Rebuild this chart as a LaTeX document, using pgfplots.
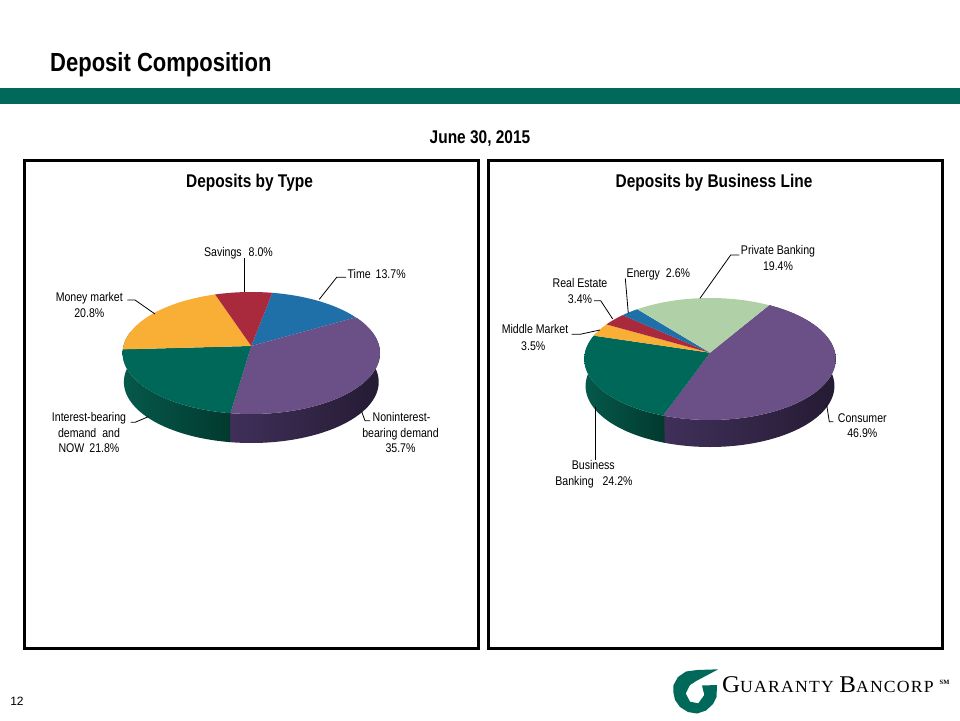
\documentclass[border=0pt]{standalone}
\usepackage{pgfplots}
\pgfplotsset{compat=1.18}
\usepackage{fontspec}
\setmainfont{Liberation Sans}
\newfontfamily\nar[FakeStretch=0.84]{Liberation Sans}
\newfontfamily\ttl[FakeStretch=0.84]{Liberation Sans}
\newfontfamily\logo[LetterSpace=7,FakeStretch=1.04]{Liberation Serif}
\newfontfamily\logosm{Liberation Serif}
\definecolor{gband}{HTML}{00695A}
\definecolor{cpur}{HTML}{6B4F87}
\definecolor{cgrn}{HTML}{006858}
\definecolor{cora}{HTML}{F9AE36}
\definecolor{cred}{HTML}{A92A3C}
\definecolor{cblu}{HTML}{1F6FA8}
\definecolor{clgr}{HTML}{B0D1A8}
\definecolor{spurL}{HTML}{40305A}
\definecolor{spurR}{HTML}{251B33}
\definecolor{sgrnL}{HTML}{05594B}
\definecolor{sgrnR}{HTML}{02392F}
% geometry of a pie: centre, radii, perspective, depth
\newcommand\setpie[6]{\def\cx{#1}\def\cy{#2}\def\rx{#3}\def\ry{#4}\def\cc{#5}\def\dep{#6}%
  \pgfmathsetmacro\sq{sqrt(1-\cc*\cc)}}
\newcommand\rimpt[2]{% angle, scale -> \px,\py
  \pgfmathsetmacro\uu{sin(#1)}\pgfmathsetmacro\vv{cos(#1)}%
  \pgfmathsetmacro\den{1+\cc*\vv}%
  \pgfmathsetmacro\px{\cx+#2*\rx*\uu*\sq/\den}%
  \pgfmathsetmacro\py{\cy-\ry*(\vv+\cc)/\den}}
% top wedge, from cumulative start angle and share in percent
\newcommand\pieslice[3]{% start, percent, colour
  \pgfmathsetmacro\aS{#1}\pgfmathsetmacro\aE{#1+3.6*#2}%
  \pgfmathtruncatemacro\nn{max(2,ceil(3.6*#2/2))}%
  \pgfmathsetmacro\py{\cy-\ry*\cc}%
  \xdef\lst{(\cx,\py)}%
  \foreach \i in {0,...,\nn}{%
    \pgfmathsetmacro\aa{\aS+(\aE-\aS)*\i/\nn}%
    \rimpt{\aa}{1}%
    \xdef\lst{\lst (\px,\py)}}%
  \edef\cmd{\noexpand\addplot[fill=#3,draw=none] coordinates {\lst} -- cycle;}\cmd
}
% side: start angle, end angle, colour on the left, colour on the right
\newcommand\side[4]{%
  \pgfmathtruncatemacro\nn{max(2,ceil((#2-#1)/2))}%
  \xdef\lst{}\xdef\blst{}%
  \foreach \i in {0,...,\nn}{%
    \pgfmathsetmacro\aa{#1+(#2-#1)*\i/\nn}%
    \rimpt{\aa}{1}%
    \xdef\lst{\lst (\px,\py)}%
    \rimpt{\aa}{0.99}\pgfmathsetmacro\yc{\py+\dep}%
    \xdef\blst{(\px,\yc) \blst}}%
  \edef\cmd{\noexpand\addplot[left color=#3,right color=#4,draw=none] coordinates {\lst \blst} -- cycle;}\cmd
}
\newcommand\lab[3]{\node[font=\nar\fontsize{12.6}{14}\selectfont,anchor=base,inner sep=0pt] at (axis cs:#1,#2) {#3};}
\newcommand\lead[1]{\addplot[black,line width=.8pt] coordinates {#1};}
\begin{document}
\begin{tikzpicture}
\begin{axis}[scale only axis,width=960pt,height=720pt,xmin=0,xmax=960,ymin=0,ymax=720,y dir=reverse,
  axis lines=none,ticks=none,clip=true]
\addplot[fill=white,draw=none] coordinates {(0,0)(960,0)(960,720)(0,720)} -- cycle;
\addplot[fill=gband,draw=none] coordinates {(0,88.3)(960,88.3)(960,104)(0,104)} -- cycle;
\addplot[draw=black,line width=3pt] coordinates {(24.5,160.5)(478,160.5)(478,648.5)(24.5,648.5)} -- cycle;
\addplot[draw=black,line width=3pt] coordinates {(488.5,160.5)(942,160.5)(942,648.5)(488.5,648.5)} -- cycle;
% --- left pie
\setpie{251.3}{353}{128.7}{61}{0.115}{29}
\side{60.4}{189}{spurL}{spurR}
\side{188.5}{284}{sgrnL}{sgrnR}
\pieslice{10.5}{13.7}{cblu}
\pieslice{59.8}{35.7}{cpur}
\pieslice{188.3}{21.8}{cgrn}
\pieslice{266.8}{20.8}{cora}
\pieslice{341.7}{8.0}{cred}
% --- right pie
\setpie{710}{359}{125.7}{61}{0.103}{27}
\side{31}{199.8}{spurL}{spurR}
\side{199.3}{290}{sgrnL}{sgrnR}
\pieslice{31}{46.9}{cpur}
\pieslice{199.8}{24.2}{cgrn}
\pieslice{286.9}{3.5}{cora}
\pieslice{299.5}{3.4}{cred}
\pieslice{311.7}{2.6}{cblu}
\pieslice{321.1}{19.4}{clgr}
% --- leaders
\lead{(244.3,258.3)(244.3,292)}
\lead{(346,277.3)(336.7,277.3)(319.3,299.3)}
\lead{(127.3,300)(135,300)(155,314)}
\lead{(130.7,422.3)(135,422.3)(148.3,416.7)}
\lead{(370,420.7)(365,420.7)(361.7,411.7)}
\lead{(739.3,255)(730.7,255)(700,298.3)}
\lead{(625.3,278.3)(628.3,313.3)}
\lead{(594,300.7)(600.7,300.7)(612.7,319)}
\lead{(571.7,334.3)(580,334.3)(600,330)}
\lead{(595.3,406.7)(595.3,460)}
\lead{(833.3,421.7)(829.3,421.7)(826.7,405)}
% --- logo mark
\addplot[fill=gband,draw=none] coordinates {(718.3,669.3)(697,670)(686,671.5)(678,677)(673.5,685)(673.3,692)(675,700)(680,707)(688,712)(697,713.5)(706,710.5)(713,704)(716.5,697)(717,685)(702,685.5)(704.3,695)(698.3,703.3)(690,701.7)(685.7,693.3)(690,685)(696.7,680.7)} -- cycle;
% --- labels
\lab{238.5}{256}{Savings\hspace{4pt} 8.0\%}
\lab{376.7}{278}{Time\hspace{2pt} 13.7\%}
\lab{89.3}{301}{Money market}
\lab{89.3}{317}{20.8\%}
\lab{89}{421}{Interest-bearing}
\lab{89}{437}{demand\hspace{3pt} and}
\lab{89}{452}{NOW\hspace{2pt} 21.8\%}
\lab{401.5}{421}{Noninterest-}
\lab{400.5}{437}{bearing demand}
\lab{400.5}{452}{35.7\%}
\lab{778}{254}{Private Banking}
\lab{778}{270}{19.4\%}
\lab{658.3}{277}{Energy\hspace{3pt} 2.6\%}
\lab{580}{287}{Real Estate}
\lab{580}{303}{3.4\%}
\lab{535}{333.5}{Middle Market}
\lab{533.3}{350}{3.5\%}
\lab{862.3}{422}{Consumer}
\lab{862.3}{437.5}{46.9\%}
\lab{593.3}{469}{Business}
\lab{594}{485}{Banking\hspace{6pt} 24.2\%}
% --- titles
\node[font=\ttl\bfseries\fontsize{26.2}{28}\selectfont,anchor=base west,inner sep=0pt] at (axis cs:50,71) {Deposit Composition};
\node[font=\ttl\bfseries\fontsize{18.4}{20}\selectfont,anchor=base,inner sep=0pt] at (axis cs:480,143) {June 30, 2015};
\node[font=\ttl\bfseries\fontsize{18.4}{20}\selectfont,anchor=base,inner sep=0pt] at (axis cs:249.5,187) {Deposits by Type};
\node[font=\ttl\bfseries\fontsize{18.4}{20}\selectfont,anchor=base,inner sep=0pt] at (axis cs:714,187) {Deposits by Business Line};
\node[font=\fontsize{12}{14}\selectfont,anchor=base,inner sep=0pt] at (axis cs:17,705) {12};
\node[font=\logo\fontsize{24}{26}\selectfont,anchor=base west,inner sep=0pt] at (axis cs:722,692) {G\fontsize{17}{20}\selectfont UARANTY \fontsize{24}{26}\selectfont B\fontsize{17}{20}\selectfont ANCORP};
\node[font=\logosm\bfseries\fontsize{6.5}{7}\selectfont,anchor=base west,inner sep=0pt] at (axis cs:939.5,684) {SM};
\end{axis}
\end{tikzpicture}
\end{document}
